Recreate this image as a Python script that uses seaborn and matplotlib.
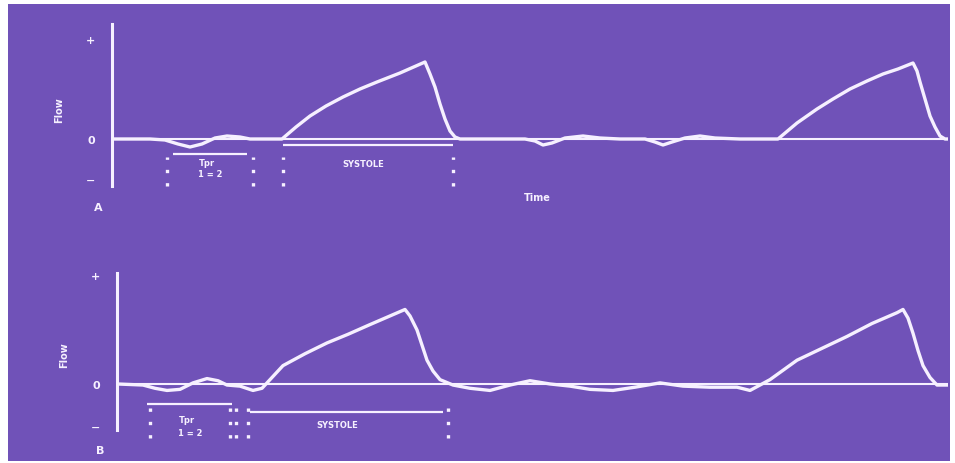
import matplotlib
matplotlib.use("Agg")
import matplotlib.pyplot as plt
from matplotlib.patches import Rectangle
import numpy as np
import pandas as pd
import seaborn as sns

# ---- waveform A: time (ms) and flow (relative units) ----
time_a = [0, 76, 106, 132, 156, 180, 206, 230, 256, 276,
          340, 368, 396, 428, 462, 496, 530, 576, 626,
          636, 646, 656, 666, 676, 686, 696,
          776, 826, 846, 862, 880, 906, 942, 976, 1016,
          1066, 1086, 1102, 1120, 1146, 1176, 1206, 1256, 1332,
          1370, 1410, 1442, 1476, 1510, 1542, 1572, 1602,
          1610, 1616, 1626, 1636, 1646, 1656, 1666, 1672]
flow_a = [0, 0, -0.01, -0.05, -0.08, -0.05, 0.01, 0.03, 0.02, 0,
          0, 0.12, 0.23, 0.33, 0.42, 0.50, 0.57, 0.66, 0.77,
          0.65, 0.52, 0.35, 0.20, 0.08, 0.02, 0,
          0, 0, -0.02, -0.06, -0.04, 0.01, 0.03, 0.01, 0,
          0, -0.03, -0.06, -0.03, 0.01, 0.03, 0.01, 0, 0,
          0.16, 0.30, 0.40, 0.50, 0.58, 0.65, 0.70, 0.76,
          0.68, 0.57, 0.40, 0.23, 0.12, 0.03, 0, 0]

# ---- waveform B ----
time_b = [0, 52, 76, 100, 126, 152, 180, 202, 220, 246, 272, 290,
          332, 376, 420, 462, 506, 546, 576,
          586, 600, 610, 620, 632, 646, 672,
          706, 746, 786, 826, 866, 906, 946, 992, 1036, 1086, 1132,
          1186, 1240, 1266, 1306, 1360, 1410, 1460, 1510, 1560, 1572,
          1582, 1592, 1602, 1612, 1626, 1640, 1662]
flow_b = [0, -0.01, -0.04, -0.06, -0.05, 0.01, 0.05, 0.03, -0.01, -0.02, -0.06, -0.04,
          0.17, 0.28, 0.38, 0.46, 0.55, 0.63, 0.69,
          0.63, 0.50, 0.36, 0.22, 0.12, 0.04, -0.01,
          -0.04, -0.06, -0.01, 0.03, 0, -0.02, -0.05, -0.06, -0.03, 0.01, -0.02,
          -0.03, -0.03, -0.06, 0.04, 0.22, 0.33, 0.44, 0.56, 0.66, 0.69,
          0.61, 0.47, 0.31, 0.17, 0.06, -0.01, -0.01]

# interval markers (ms) and brackets
marks_a = [110, 282, 342, 682]
marks_b = [66, 226, 238, 262, 662]
pre_bracket_a = (122, 270)
sys_bracket_a = (342, 682)
pre_bracket_b = (60, 230)
sys_bracket_b = (266, 652)

tick_values_a = [-0.4, 0, 1]
tick_values_b = [-0.39, 0, 1.01]
tick_labels = ["\u2212", "0", "+"]

BG = "#7052B8"
FG = "#F6F0FF"

sns.set_theme(style="white")
plt.rcParams["font.family"] = ["DejaVu Sans"]

W, H = 955, 464
fig = plt.figure(figsize=(W / 100, H / 100), dpi=100)
fig.patch.set_facecolor("white")

# slide background panel behind both plots
bg_ax = fig.add_axes([0, 0, 1, 1], zorder=-5)
bg_ax.set_axis_off()
bg_ax.set_xlim(0, W)
bg_ax.set_ylim(H, 0)
bg_ax.add_patch(Rectangle((8, 5), 942, 457, facecolor=BG, edgecolor="none"))


def make_axes(left_px, top_px, bottom_px, right_px=948):
    return fig.add_axes([left_px / W, 1 - bottom_px / H,
                         (right_px - left_px) / W, (bottom_px - top_px) / H])


ax_a = make_axes(112, 20, 200)
ax_b = make_axes(117, 265, 445)
ax_a.set_xlim(0, 1672)
ax_a.set_ylim(-0.6, 1.2)
ax_b.set_xlim(0, 1662)
ax_b.set_ylim(-0.556, 1.111)

panels = [
    (ax_a, time_a, flow_a, marks_a, pre_bracket_a, sys_bracket_a, tick_values_a,
     (1.15, -0.47), (-0.18, -0.47), "A", (-28, -0.68),
     (190, -0.24), (196, -0.35), (502, -0.25), -0.15, -0.06),
    (ax_b, time_b, flow_b, marks_b, pre_bracket_b, sys_bracket_b, tick_values_b,
     (1.03, -0.43), (-0.18, -0.50), "B", (-34, -0.61),
     (140, -0.33), (146, -0.45), (440, -0.38), -0.19, -0.26),
]

for (ax, t, f, marks, pre_br, sys_br, tvals, spine_b, mark_span, tag, tag_xy,
     pre_xy, eq_xy, sys_xy, pre_y, sys_y) in panels:
    ax.set_facecolor("none")
    ax.axhline(0, color=FG, lw=1.5, zorder=2)
    df = pd.DataFrame({"time": t, "flow": f})
    sns.lineplot(data=df, x="time", y="flow", ax=ax, color=FG, lw=2.4,
                 sort=False, estimator=None, zorder=3,
                 solid_joinstyle="round", solid_capstyle="round")
    for side in ("top", "right", "bottom"):
        ax.spines[side].set_visible(False)
    ax.spines["left"].set_color(FG)
    ax.spines["left"].set_linewidth(2.2)
    ax.spines["left"].set_bounds(spine_b[1], spine_b[0])
    ax.set_yticks(tvals)
    ax.set_yticklabels(tick_labels, color=FG, fontsize=8, fontweight="bold")
    ax.tick_params(axis="y", length=0, pad=12)
    ax.set_xticks([])
    ax.set_xlabel("")
    ax.set_ylabel("Flow", color=FG, fontsize=7, fontweight="bold", labelpad=16)

    ax.vlines(marks, mark_span[1], mark_span[0], colors=FG, lw=2.4,
              linestyles=(0, (1, 3)), zorder=3)
    ax.hlines([pre_y, sys_y], [pre_br[0], sys_br[0]], [pre_br[1], sys_br[1]],
              colors=FG, lw=1.6, zorder=3)

    ax.text(*pre_xy, "Tpr", color=FG, fontsize=6, fontweight="bold",
            ha="center", va="center")
    ax.text(*eq_xy, "1 = 2", color=FG, fontsize=6, fontweight="bold",
            ha="center", va="center")
    ax.text(*sys_xy, "SYSTOLE", color=FG, fontsize=6, fontweight="bold",
            ha="center", va="center")
    ax.text(*tag_xy, tag, color=FG, fontsize=8, fontweight="bold",
            ha="center", va="center", clip_on=False)

ax_a.text(850, -0.58, "Time", color=FG, fontsize=7, fontweight="bold",
          ha="center", va="center", clip_on=False)

fig.savefig("out.png", dpi=100, facecolor=fig.get_facecolor())
